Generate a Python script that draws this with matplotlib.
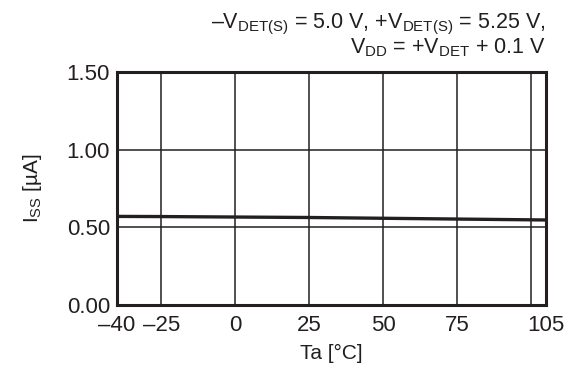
import matplotlib.pyplot as plt

plt.rcParams['font.family'] = ['Liberation Sans', 'DejaVu Sans']
plt.rcParams['mathtext.fontset'] = 'custom'
plt.rcParams['mathtext.rm'] = 'Liberation Sans'

# data
ta = [-40, -25, 0, 25, 50, 75, 105]
iss = [0.570, 0.569, 0.566, 0.563, 0.558, 0.553, 0.547]
xticks = [-40, -25, 0, 25, 50, 75, 105]
xticklabels = ['\u201340', '\u201325', '0', '25', '50', '75', '105']
grid_x = [-25, 0, 25, 50, 75, 100]
yticks = [0.0, 0.5, 1.0, 1.5]
yticklabels = ['0.00', '0.50', '1.00', '1.50']

col = '#231f20'
fig = plt.figure(figsize=(5.68, 3.85), dpi=100)
ax = fig.add_axes([0.206, 0.208, 0.755, 0.605])

for gx in grid_x:
    ax.axvline(gx, color=col, lw=1.1, zorder=1)
for gy in yticks[1:-1]:
    ax.axhline(gy, color=col, lw=1.1, zorder=1)

ax.plot(ta, iss, color=col, lw=2.4, zorder=3)

ax.set_xlim(-40, 105)
ax.set_ylim(0, 1.5)
ax.set_xticks(xticks)
ax.set_xticklabels(xticklabels)
ax.set_yticks(yticks)
ax.set_yticklabels(yticklabels)
ax.tick_params(length=0, labelsize=16, colors=col)
ax.tick_params(axis='y', pad=5)
ax.tick_params(axis='x', pad=7)
for s in ax.spines.values():
    s.set_linewidth(2.2)
    s.set_color(col)

ax.set_xlabel('Ta [\u00b0C]', fontsize=15, color=col, labelpad=6)
ax.set_ylabel('I$\\mathregular{_{SS}}$ [\u00b5A]', fontsize=15, color=col, labelpad=16)

fig.text(0.961, 1 - 28 / 385,
         '\u2013V$\\mathregular{_{DET(S)}}$ = 5.0 V, +V$\\mathregular{_{DET(S)}}$ = 5.25 V,',
         ha='right', va='baseline', fontsize=15.5, color=col)
fig.text(0.961, 1 - 53 / 385,
         'V$\\mathregular{_{DD}}$ = +V$\\mathregular{_{DET}}$ + 0.1 V',
         ha='right', va='baseline', fontsize=15.5, color=col)

fig.savefig('out.png', dpi=100)
